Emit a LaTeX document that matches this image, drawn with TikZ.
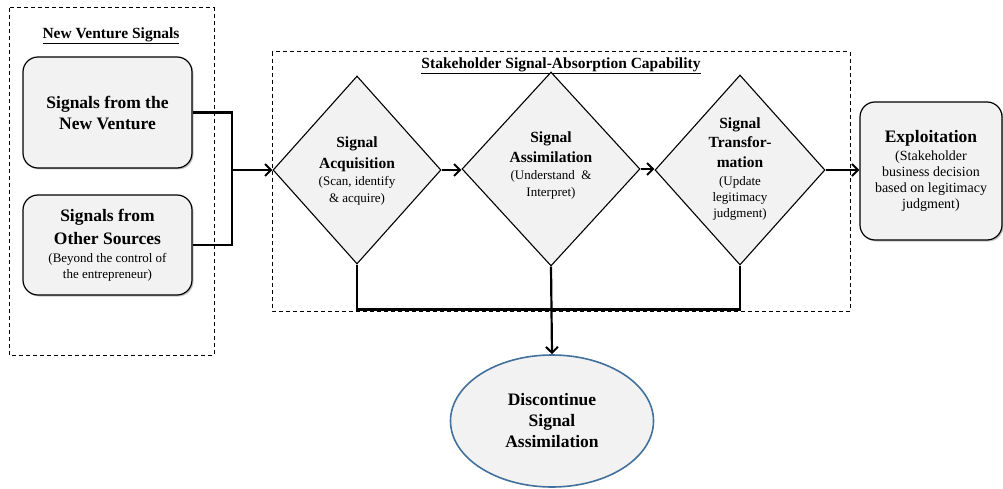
\documentclass[tikz,border=0pt]{standalone}
\usepackage{fontspec}
\setmainfont{Liberation Serif}
\usepackage{tikz}
\usepackage{xcolor}
\usetikzlibrary{
    arrows.meta,
    shapes.geometric,
    shadows,
    calc,
    positioning
}
\definecolor{boxgray}{HTML}{F2F2F2}
\definecolor{ovalblue}{HTML}{41719C}
\newcommand{\hd}[1]{{\fontsize{17.5}{21}\selectfont\bfseries #1}}
\newcommand{\dhd}[1]{{\fontsize{15.5}{18}\selectfont\bfseries #1}}

\begin{document}
\begin{tikzpicture}[x=1pt, y=-1pt,
    groupbox/.style={draw, dash pattern=on 4pt off 3pt, line width=1pt},
    grouptitle/.style={font=\fontsize{15.5}{18}\selectfont\bfseries},
    box/.style={draw, line width=1.2pt, rounded corners=15pt, fill=boxgray,
        drop shadow={shadow xshift=1.5pt, shadow yshift=-1.5pt, opacity=0.45},
        align=center, inner sep=0pt, font=\fontsize{13}{16}\selectfont},
    diam/.style={diamond, draw, line width=1.1pt, fill=boxgray, inner sep=0pt},
    dtext/.style={align=center, inner sep=0pt, font=\fontsize{13}{16}\selectfont},
    oval/.style={ellipse, draw=ovalblue, line width=1.6pt, fill=boxgray, inner sep=0pt,
        align=center, font=\fontsize{17.5}{21}\selectfont\bfseries},
    link/.style={line width=2.2pt},
    arr/.style={link, -{Straight Barb[length=6pt, width=12pt, line width=2pt]}}]
    \useasboundingbox (0,0) rectangle (1003,489);
    \draw[groupbox] (9,8) rectangle (214,355);
    \draw[groupbox] (272,52) rectangle (850,311);
    \node[grouptitle] (nvtitle) at (111,36) {\underline{New Venture Signals}};
    \node[grouptitle] (sttitle) at (561,66) {\underline{Stakeholder Signal-Absorption Capability}};
    \node[box, minimum width=169, minimum height=111, font=\fontsize{17.5}{21}\selectfont\bfseries]
        (venture) at (107.5,112.5) {Signals from the\\New Venture};
    \node[box, minimum width=169, minimum height=100] (other) at (107.5,245)
        {\hd{Signals from}\\[6pt]\hd{Other Sources}\\[2pt](Beyond the control of\\the entrepreneur)};
    \node[diam, minimum width=168, minimum height=188] (acq) at (357,170) {};
    \node[diam, minimum width=178, minimum height=194] (asm) at (551,169) {};
    \node[diam, minimum width=170, minimum height=190] (tra) at (740,170) {};
    \node[dtext] (acqtext) at (357,171)
        {\dhd{Signal}\\[5pt]\dhd{Acquisition}\\[1pt](Scan, identify\\[1pt]\& acquire)};
    \node[dtext] (asmtext) at (551,166)
        {\dhd{Signal}\\[4pt]\dhd{Assimilation}\\[1pt](Understand \ \&\\[1pt]Interpret)};
    \node[dtext] (tratext) at (740,169)
        {\dhd{Signal}\\[3pt]\dhd{Transfor-}\\[4pt]\dhd{mation}\\[2pt](Update\\legitimacy\\judgment)};
    \node[box, minimum width=142, minimum height=138, font=\fontsize{14}{16}\selectfont]
        (exploit) at (931,171)
        {{\fontsize{17.5}{20}\selectfont\bfseries Exploitation}\\[2pt](Stakeholder\\business decision\\based on legitimacy\\judgment)};
    \node[oval, minimum width=203, minimum height=132] (disc) at (552,421)
        {Discontinue\\Signal\\Assimilation};
    \coordinate (join) at (232,170);
    \draw[link] (venture.east) -| (join) |- (other.east);
    \draw[arr] (join) -- (acq.west);
    \draw[arr] (acq.east) -- (acq.east -| asm.west);
    \draw[arr] (asm.east) -- (asm.east -| tra.west);
    \draw[arr] (tra.east) -- (tra.east -| exploit.west);
    \draw[link] (acq.south) -- ++(0,45) -| (tra.south);
    \draw[arr] (asm.south) -- (disc.north);
\end{tikzpicture}
\end{document}
